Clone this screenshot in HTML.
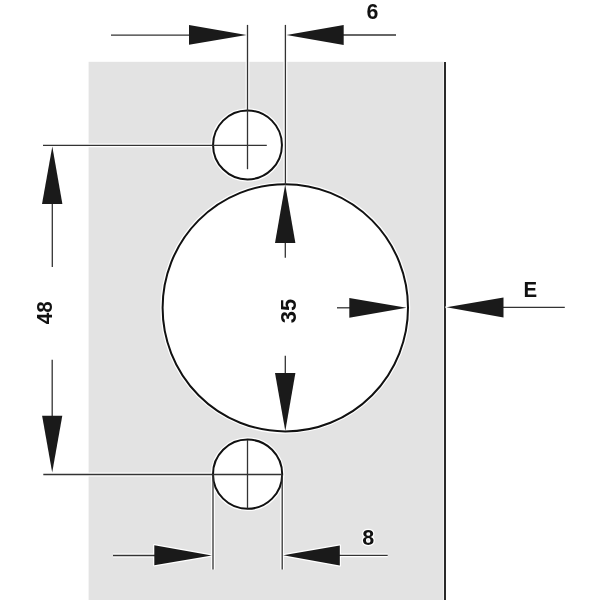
<!DOCTYPE html>
<html>
<head>
<meta charset="utf-8">
<style>
html,body{margin:0;padding:0;background:#fff;width:600px;height:600px;overflow:hidden;}
svg{display:block;will-change:transform;}
text{font-family:"Liberation Sans",sans-serif;font-weight:bold;fill:#111;}
</style>
</head>
<body>
<svg width="600" height="600" viewBox="0 0 600 600">
  <defs>
    <g id="lines">
      <!-- top dims -->
      <line x1="111" y1="35.05" x2="190" y2="35.05"/>
      <line x1="247.5" y1="24.9" x2="247.5" y2="169.2"/>
      <line x1="285.4" y1="24.9" x2="285.4" y2="185"/>
      <line x1="343" y1="35" x2="396" y2="35"/>
      <!-- top small circle horizontal -->
      <line x1="43" y1="145.35" x2="266.8" y2="145.35"/>
      <!-- left vertical dim lines -->
      <line x1="52.3" y1="204" x2="52.3" y2="267"/>
      <line x1="52.2" y1="359.8" x2="52.2" y2="416"/>
      <!-- bottom horizontal -->
      <line x1="43.3" y1="474.5" x2="282" y2="474.5"/>
      <!-- bottom extension lines -->
      <line x1="213" y1="474.5" x2="213" y2="569.6"/>
      <line x1="282.2" y1="474.5" x2="282.2" y2="569.5"/>
      <!-- bottom dims -->
      <line x1="113" y1="555.5" x2="155" y2="555.5"/>
      <line x1="339" y1="555.3" x2="387.7" y2="555.3"/>
      <!-- E dim -->
      <line x1="503" y1="307.3" x2="564.8" y2="307.3"/>
      <!-- inside big circle -->
      <line x1="285.3" y1="242" x2="285.3" y2="257.8"/>
      <line x1="285.3" y1="355.8" x2="285.3" y2="374"/>
      <line x1="337" y1="307.8" x2="350" y2="307.8"/>
      <!-- crosshairs -->
      <line x1="247.5" y1="440" x2="247.5" y2="508.5"/>
    </g>
    <g id="arrows">
      <polygon points="189,25 246.5,35 189,44.8"/>
      <polygon points="286.5,35 343.7,25 343.7,44.9"/>
      <polygon points="52.3,146.5 42,204 62.4,204"/>
      <polygon points="42.1,415.8 62.3,415.8 52.2,472.5"/>
      <polygon points="154.3,545.3 211.8,555.5 154.3,565.3"/>
      <polygon points="283.2,555.3 339.8,545.4 339.8,565.5"/>
      <polygon points="285.2,184.5 275,243 295.4,243"/>
      <polygon points="275,373 295.4,373 285.3,431"/>
      <polygon points="349.3,297.9 406.5,307.7 349.3,317.7"/>
      <polygon points="446.5,307.3 503.5,297.5 503.5,317.4"/>
    </g>
  </defs>
  <rect x="0" y="0" width="600" height="600" fill="#fff"/>
  <!-- grey panel -->
  <rect x="88.6" y="61.8" width="354.9" height="538.2" fill="#e3e3e3"/>
  <!-- right edge line -->
  <rect x="444" y="62" width="2" height="538" fill="#2a2a2a"/>

  <!-- white halos -->
  <use href="#lines" stroke="#fff" stroke-width="3.8" fill="none"/>
  <use href="#arrows" fill="#fff" stroke="#fff" stroke-width="2.4" stroke-linejoin="round"/>

  <!-- circles -->
  <ellipse cx="285.3" cy="307.8" rx="122.7" ry="123.6" fill="#fff" stroke="#fff" stroke-width="4.5"/>
  <circle cx="247.5" cy="144.95" r="34.45" fill="#fff" stroke="#fff" stroke-width="4.5"/>
  <circle cx="247.6" cy="474.2" r="34.6" fill="#fff" stroke="#fff" stroke-width="4.5"/>
  <ellipse cx="285.3" cy="307.8" rx="122.7" ry="123.6" fill="#fff" stroke="#111" stroke-width="2"/>
  <circle cx="247.5" cy="144.95" r="34.45" fill="#fff" stroke="#111" stroke-width="2"/>
  <circle cx="247.6" cy="474.2" r="34.6" fill="#fff" stroke="#111" stroke-width="2"/>

  <use href="#lines" stroke="#333" stroke-width="1.3" fill="none"/>
  <use href="#arrows" fill="#1a1a1a"/>

  <!-- labels -->
  <g font-size="22" stroke="#fff" stroke-width="2.5" fill="#fff" stroke-linejoin="round">
    <text transform="translate(372.3,19) scale(0.97,1.04)" text-anchor="middle" style="fill:#fff">6</text>
    <text transform="translate(368.3,545) scale(0.98,1.02)" text-anchor="middle" style="fill:#fff">8</text>
  </g>
  <text transform="translate(372.3,19) scale(0.97,1.04)" font-size="22" text-anchor="middle">6</text>
  <text transform="translate(368.3,545) scale(0.98,1.02)" font-size="22" text-anchor="middle">8</text>
  <text transform="translate(530.4,297.3) scale(0.93,1.03)" font-size="22" text-anchor="middle">E</text>
  <text transform="translate(52.2,312.7) rotate(-90) scale(0.94,1)" font-size="22" text-anchor="middle">48</text>
  <text transform="translate(296.2,311) rotate(-90)" font-size="22" text-anchor="middle">35</text>
</svg>
</body>
</html>
